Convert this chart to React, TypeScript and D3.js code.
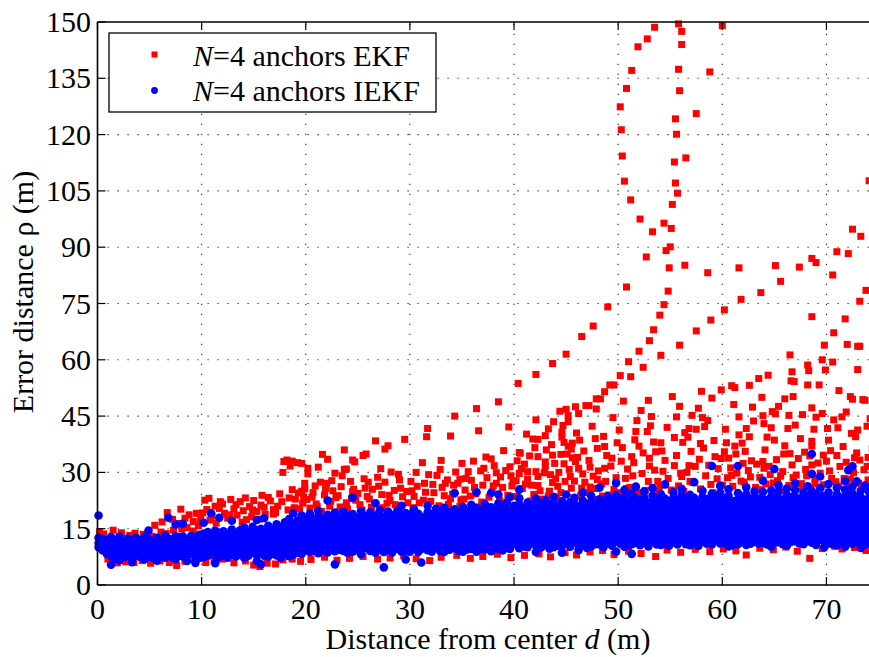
import React from "react";
import * as d3 from "d3";

// Axis ticks
const xTicks = [0, 10, 20, 30, 40, 50, 60, 70];
const yTicks = [0, 15, 30, 45, 60, 75, 90, 105, 120, 135, 150];

// IEKF error samples, grouped as [d, ρ1, ρ2, ...] (one column per distance)
const iekf0to10: number[][] = [
  [0.1, 18.5, 12.6, 11.2, 10.1], [0.5, 12.3, 10.7, 9.2, 11.6], [0.9, 11.9, 10.2, 8.3, 9.6],
  [1.3, 12.8, 11.1, 9.5, 7.7, 5.4], [1.7, 12.0, 10.4, 8.7, 7.1], [2.1, 12.9, 11.6, 9.9, 8.1, 6.6],
  [2.5, 11.5, 10.1, 8.6, 7.4], [2.9, 12.4, 10.8, 9.3, 7.8], [3.3, 11.8, 10.5, 8.4, 7.0, 6.1],
  [3.7, 12.6, 11.0, 9.7, 8.0], [4.1, 11.9, 10.6, 9.0, 7.5], [4.5, 12.8, 11.4, 9.8, 8.3, 6.9],
  [4.9, 14.5, 12.2, 10.4, 8.9, 7.6], [5.3, 11.7, 10.2, 8.6, 7.2], [5.7, 12.6, 11.1, 9.5, 8.0, 6.5],
  [6.1, 12.1, 10.5, 9.1, 7.7], [6.5, 13.2, 11.7, 10.0, 8.5, 7.3], [6.8, 17.9, 12.4, 10.8, 9.4, 7.9],
  [7.2, 12.1, 10.6, 8.9, 7.4], [7.5, 16.1, 13.0, 11.3, 9.7, 8.2, 6.9], [7.9, 12.7, 11.0, 9.4, 7.9],
  [8.2, 16.3, 12.9, 10.9, 9.2, 7.6], [8.6, 12.2, 10.6, 9.1, 7.8, 6.4], [9.0, 13.1, 11.5, 9.9, 8.4],
  [9.4, 12.5, 10.8, 9.3, 7.7, 5.9], [9.8, 13.4, 11.8, 10.3, 8.6, 7.2],
];

const iekf10to20: number[][] = [
  [10.2, 16.6, 13.7, 12.1, 10.5, 8.8, 7.4], [10.6, 14.1, 12.4, 10.8, 9.0, 7.8],
  [10.9, 19.1, 13.3, 11.5, 9.9, 8.3], [11.3, 14.5, 12.9, 11.2, 9.6, 8.0, 5.8],
  [11.7, 17.9, 13.9, 12.1, 10.4, 8.9, 7.5], [12.1, 14.3, 12.6, 11.0, 9.3, 7.9],
  [12.5, 13.5, 11.8, 10.2, 8.6, 7.3], [12.9, 17.1, 14.8, 13.0, 11.3, 9.7, 8.1],
  [13.3, 13.9, 12.2, 10.6, 8.9, 7.6], [13.7, 14.6, 13.0, 11.4, 9.8, 8.2],
  [14.1, 15.3, 13.5, 11.7, 10.0, 8.5, 7.2], [14.5, 14.1, 12.4, 10.9, 9.2, 7.8],
  [14.9, 15.5, 13.8, 12.0, 10.3, 8.7], [15.3, 17.3, 14.6, 12.9, 11.2, 9.5, 8.0, 6.4],
  [15.7, 15.0, 13.3, 11.7, 9.9, 8.4, 5.5], [16.0, 17.8, 14.4, 12.7, 11.0, 9.4, 7.8],
  [16.4, 15.8, 14.0, 12.3, 10.6, 9.0, 7.6], [16.8, 14.8, 13.1, 11.5, 9.8, 8.3],
  [17.2, 16.2, 14.5, 12.8, 11.1, 9.5, 7.9], [17.6, 15.3, 13.6, 12.0, 10.3, 8.7, 7.3],
  [18.0, 16.7, 14.9, 13.2, 11.6, 9.9, 8.4], [18.4, 17.6, 15.7, 13.9, 12.3, 10.6, 9.0, 7.7],
  [18.8, 19.1, 16.3, 14.5, 12.8, 11.2, 9.5, 8.1], [19.2, 17.2, 15.3, 13.6, 11.9, 10.3, 8.6],
  [19.6, 18.5, 16.6, 14.8, 13.1, 11.4, 9.8, 8.3],
];

const iekf20to30: number[][] = [
  [20.0, 17.9, 16.1, 14.4, 12.6, 10.9, 9.2], [20.4, 19.0, 17.3, 15.5, 13.7, 12.1, 10.4, 8.8],
  [20.8, 17.5, 15.8, 14.0, 12.3, 10.7, 9.0], [21.2, 19.8, 18.3, 16.6, 14.9, 13.3, 11.5, 9.9, 8.5],
  [21.6, 17.7, 15.9, 14.2, 12.5, 10.8, 9.3], [22.1, 22.5, 18.7, 17.0, 15.3, 13.6, 11.9, 10.2, 8.7],
  [22.5, 18.1, 16.4, 14.6, 13.0, 11.3, 9.6], [22.8, 19.3, 17.5, 15.8, 14.1, 12.4, 10.7, 9.0, 5.5],
  [23.2, 17.9, 16.2, 14.5, 12.8, 11.1, 9.4], [23.6, 19.6, 17.8, 16.0, 14.3, 12.6, 10.9, 9.1],
  [24.0, 18.4, 16.7, 15.0, 13.3, 11.6, 9.9, 8.6], [24.5, 23.3, 18.9, 17.2, 15.5, 13.8, 12.1, 10.4, 8.9],
  [24.9, 18.0, 16.3, 14.6, 12.9, 11.2, 9.5], [25.3, 19.7, 17.9, 16.2, 14.5, 12.8, 11.1, 9.4, 8.2],
  [25.7, 18.3, 16.6, 14.9, 13.2, 11.5, 9.8], [26.2, 19.4, 17.6, 15.9, 14.2, 12.5, 10.8, 9.1],
  [26.7, 21.8, 18.5, 16.8, 15.1, 13.4, 11.7, 10.0, 8.6], [27.1, 19.9, 18.1, 16.4, 14.7, 13.0, 11.3, 9.6],
  [27.5, 18.2, 16.5, 14.8, 13.1, 11.4, 9.7, 8.8, 4.7], [27.9, 19.6, 17.8, 16.1, 14.4, 12.7, 11.0, 9.3],
  [28.3, 18.6, 16.9, 15.2, 13.5, 11.8, 10.1, 8.7], [28.8, 19.8, 18.2, 16.5, 14.8, 13.1, 11.4, 9.7],
  [29.2, 21.1, 18.8, 17.1, 15.4, 13.7, 12.0, 10.3, 8.9], [29.6, 19.2, 17.4, 15.7, 14.0, 12.3, 10.6, 9.2, 6.8],
];

const iekf30to40: number[][] = [
  [30.0, 18.7, 17.0, 15.1, 13.6, 11.8, 10.2, 8.9], [30.4, 20.1, 18.2, 16.8, 14.9, 13.3, 11.4, 9.9],
  [30.8, 19.0, 17.5, 15.6, 13.9, 12.1, 10.6, 8.8], [31.1, 18.1, 16.4, 14.8, 13.0, 11.5, 9.6, 6.0],
  [31.7, 21.1, 19.4, 17.6, 16.0, 14.2, 12.7, 10.9, 9.3], [32.1, 18.9, 17.1, 15.5, 13.7, 12.2, 10.4, 8.9],
  [32.5, 20.3, 18.5, 16.9, 15.1, 13.4, 11.8, 10.0], [32.9, 19.2, 17.4, 15.7, 14.1, 12.3, 10.7, 9.1],
  [33.3, 20.6, 18.8, 17.2, 15.4, 13.9, 12.0, 10.3, 8.8], [33.8, 19.5, 17.7, 16.1, 14.3, 12.8, 11.0, 9.4],
  [34.3, 24.5, 20.2, 18.6, 16.7, 15.1, 13.3, 11.7, 9.9], [34.7, 19.1, 17.5, 15.8, 14.0, 12.5, 10.7, 9.0],
  [35.1, 20.8, 19.0, 17.4, 15.6, 14.0, 12.3, 10.5, 8.9], [35.5, 19.7, 17.9, 16.2, 14.6, 12.8, 11.2, 9.5],
  [35.9, 21.4, 19.6, 18.0, 16.3, 14.5, 12.9, 11.1, 9.6], [36.4, 24.7, 20.5, 18.7, 17.0, 15.3, 13.5, 11.9, 10.1, 8.9],
  [36.8, 19.9, 18.1, 16.5, 14.7, 13.0, 11.4, 9.7], [37.2, 21.6, 19.8, 18.2, 16.4, 14.8, 13.0, 11.3, 9.5],
  [37.8, 24.5, 20.7, 18.9, 17.3, 15.5, 13.9, 12.1, 10.4, 9.0], [38.2, 20.0, 18.4, 16.6, 15.0, 13.2, 11.6, 9.8],
  [38.5, 24.1, 21.8, 20.1, 18.3, 16.6, 14.8, 13.2, 11.4, 9.7], [38.9, 20.9, 19.3, 17.5, 15.8, 14.2, 12.4, 10.8, 9.2],
  [39.3, 22.0, 20.2, 18.5, 16.9, 15.1, 13.5, 11.7, 10.0], [39.6, 23.4, 19.7, 18.0, 16.2, 14.6, 12.8, 11.2, 9.6],
];

const iekf40to50: number[][] = [
  [40.0, 21.1, 19.3, 17.7, 15.9, 14.3, 12.5, 10.9], [40.5, 25.4, 23.1, 21.5, 19.8, 18.1, 16.4, 14.8, 13.0, 11.4, 9.8],
  [40.9, 20.5, 18.8, 17.0, 15.4, 13.6, 12.0, 10.3], [41.3, 22.0, 20.3, 18.5, 16.9, 15.1, 13.5, 11.7, 10.1],
  [41.7, 21.2, 19.6, 17.8, 16.2, 14.4, 12.8, 11.1], [42.1, 23.0, 20.7, 19.0, 17.2, 15.6, 13.8, 12.2, 10.5, 8.8],
  [42.6, 21.8, 20.1, 18.4, 16.6, 15.0, 13.2, 11.6, 10.0], [43.0, 22.6, 20.8, 19.2, 17.5, 15.7, 14.1, 12.3, 10.7],
  [43.4, 21.5, 19.7, 18.1, 16.3, 14.7, 12.9, 11.3, 9.7], [43.8, 23.5, 21.9, 20.2, 18.4, 16.8, 15.0, 13.4, 11.6, 10.1],
  [44.2, 20.7, 19.0, 17.2, 15.6, 13.8, 12.2, 10.5], [44.6, 22.3, 20.6, 18.9, 17.1, 15.5, 13.7, 12.1, 10.4, 8.6],
  [45.0, 24.1, 21.4, 19.7, 17.9, 16.3, 14.5, 12.9, 11.1], [45.4, 22.1, 20.4, 18.6, 17.0, 15.2, 13.6, 11.8, 10.2],
  [45.8, 23.2, 21.6, 19.8, 18.2, 16.4, 14.8, 13.0, 11.4], [46.2, 21.0, 19.3, 17.6, 15.8, 14.2, 12.4, 10.8, 9.3],
  [46.6, 24.6, 22.5, 20.7, 19.1, 17.3, 15.7, 13.9, 12.3, 10.6], [47.0, 21.7, 20.0, 18.2, 16.6, 14.8, 13.2, 11.4, 9.9],
  [47.4, 23.8, 22.1, 20.5, 18.7, 17.1, 15.3, 13.7, 11.9, 10.3], [47.8, 21.2, 19.5, 17.7, 16.1, 14.3, 12.7, 10.9],
  [48.2, 25.9, 22.8, 21.0, 19.4, 17.6, 16.0, 14.2, 12.6, 10.8], [48.6, 22.0, 20.3, 18.5, 16.9, 15.1, 13.5, 11.7, 10.1],
  [49.0, 23.6, 21.5, 19.8, 18.0, 16.4, 14.6, 13.0, 11.2], [49.4, 22.4, 20.7, 18.9, 17.3, 15.5, 13.9, 12.1, 10.5],
  [49.8, 27.2, 24.0, 21.9, 20.2, 18.4, 16.8, 15.0, 13.4, 11.6, 8.9],
];

const iekf50to60: number[][] = [
  [50.2, 22.9, 21.2, 19.4, 17.8, 16.0, 14.4, 12.6, 11.0], [50.6, 25.3, 23.6, 21.8, 20.2, 18.4, 16.8, 15.0, 13.4, 11.6, 10.2],
  [51.0, 22.2, 20.5, 18.7, 17.1, 15.3, 13.7, 11.9, 10.6], [51.3, 24.4, 22.7, 20.9, 19.3, 17.5, 15.9, 14.1, 12.5, 10.9, 8.3],
  [51.7, 26.2, 23.1, 21.3, 19.7, 17.9, 16.3, 14.5, 12.9, 11.2], [52.1, 22.5, 20.8, 19.0, 17.4, 15.6, 14.0, 12.2, 10.6],
  [52.5, 24.9, 23.4, 21.6, 20.0, 18.2, 16.6, 14.8, 13.2, 11.5], [52.9, 22.0, 20.3, 18.5, 16.9, 15.1, 13.5, 11.7, 10.3],
  [53.3, 25.8, 23.8, 22.0, 20.4, 18.6, 17.0, 15.2, 13.6, 11.8], [53.7, 22.7, 21.0, 19.2, 17.6, 15.8, 14.2, 12.4, 10.8],
  [54.1, 24.2, 22.4, 20.6, 19.0, 17.2, 15.6, 13.8, 12.2, 10.7], [54.5, 26.8, 23.0, 21.2, 19.6, 17.8, 16.2, 14.4, 12.8, 11.1],
  [54.9, 22.3, 20.6, 18.8, 17.2, 15.4, 13.8, 12.0, 10.5], [55.3, 24.7, 23.3, 21.5, 19.9, 18.1, 16.5, 14.7, 13.1, 11.4],
  [55.7, 22.6, 20.9, 19.1, 17.5, 15.7, 14.1, 12.3, 10.8], [56.1, 25.6, 23.9, 22.1, 20.5, 18.7, 17.1, 15.3, 13.7, 11.9],
  [56.5, 22.8, 21.1, 19.3, 17.7, 15.9, 14.3, 12.5, 10.9], [56.9, 24.0, 22.5, 20.7, 19.1, 17.3, 15.7, 13.9, 12.3, 10.6],
  [57.3, 27.4, 23.2, 21.4, 19.8, 18.0, 16.4, 14.6, 13.0, 11.3], [57.7, 22.1, 20.4, 18.6, 17.0, 15.2, 13.6, 11.8, 10.4],
  [58.1, 25.1, 23.5, 21.7, 20.1, 18.3, 16.7, 14.9, 13.3, 11.6], [58.5, 22.9, 21.2, 19.4, 17.8, 16.0, 14.4, 12.6, 11.0],
  [59.0, 31.7, 24.3, 22.6, 20.8, 19.2, 17.4, 15.8, 14.0, 12.4, 10.8], [59.4, 23.7, 22.0, 20.2, 18.6, 16.8, 15.2, 13.4, 11.8],
  [59.8, 26.4, 24.6, 22.9, 21.1, 19.5, 17.7, 16.1, 14.3, 12.7, 11.1],
];

const iekf60to75: number[][] = [
  [60.2, 23.1, 21.4, 19.6, 18.0, 16.2, 14.6, 12.8, 11.2], [60.6, 25.5, 23.8, 22.0, 20.4, 18.6, 17.0, 15.2, 13.6, 11.8, 10.3],
  [61.0, 22.4, 20.7, 18.9, 17.3, 15.5, 13.9, 12.1, 10.6], [61.5, 31.7, 24.5, 22.8, 21.0, 19.4, 17.6, 16.0, 14.2, 12.6, 10.9],
  [61.9, 23.3, 21.6, 19.8, 18.2, 16.4, 14.8, 13.0, 11.4], [62.3, 26.0, 24.2, 22.4, 20.8, 19.0, 17.4, 15.6, 14.0, 12.2, 10.7],
  [62.7, 22.9, 21.2, 19.4, 17.8, 16.0, 14.4, 12.6, 11.0], [63.1, 25.0, 23.5, 21.7, 20.1, 18.3, 16.7, 14.9, 13.3, 11.5],
  [63.5, 23.0, 21.3, 19.5, 17.9, 16.1, 14.5, 12.7, 11.1], [63.9, 27.8, 24.8, 23.0, 21.4, 19.6, 18.0, 16.2, 14.6, 12.8, 11.2],
  [64.3, 22.6, 20.9, 19.1, 17.5, 15.7, 14.1, 12.3, 10.8], [64.7, 25.2, 23.6, 21.8, 20.2, 18.4, 16.8, 15.0, 13.4, 11.6, 10.2],
  [65.0, 30.9, 23.2, 21.4, 19.8, 18.0, 16.4, 14.6, 13.0, 11.3], [65.4, 26.6, 24.9, 23.1, 21.5, 19.7, 18.1, 16.3, 14.7, 12.9, 11.4],
  [65.8, 22.7, 21.0, 19.2, 17.6, 15.8, 14.2, 12.4, 10.9], [66.2, 25.7, 24.0, 22.2, 20.6, 18.8, 17.2, 15.4, 13.8, 12.0, 10.5],
  [66.6, 23.4, 21.7, 19.9, 18.3, 16.5, 14.9, 13.1, 11.5], [67.0, 27.1, 25.3, 23.5, 21.9, 20.1, 18.5, 16.7, 15.1, 13.3, 11.7],
  [67.4, 23.0, 21.3, 19.5, 17.9, 16.1, 14.5, 12.7, 11.1], [67.8, 24.6, 22.9, 21.1, 19.5, 17.7, 16.1, 14.3, 12.7, 10.9],
  [68.2, 26.3, 23.7, 21.9, 20.3, 18.5, 16.9, 15.1, 13.5, 11.7], [68.6, 34.9, 29.6, 25.0, 23.3, 21.5, 19.9, 18.1, 16.5, 14.7, 13.1, 11.3],
  [69.0, 24.2, 22.5, 20.7, 19.1, 17.3, 15.7, 13.9, 12.3, 10.7], [69.4, 28.9, 25.8, 24.1, 22.3, 20.7, 18.9, 17.3, 15.5, 13.9, 12.1],
  [69.8, 23.5, 21.8, 20.0, 18.4, 16.6, 15.0, 13.2, 11.6, 10.1], [70.2, 26.9, 24.7, 22.9, 21.3, 19.5, 17.9, 16.1, 14.5, 12.7, 11.1],
  [70.6, 22.8, 21.1, 19.3, 17.7, 15.9, 14.3, 12.5, 10.9], [71.0, 25.9, 24.2, 22.4, 20.8, 19.0, 17.4, 15.6, 14.0, 12.2, 10.6],
  [71.4, 23.3, 21.6, 19.8, 18.2, 16.4, 14.8, 13.0, 11.4], [71.8, 27.7, 25.4, 23.6, 22.0, 20.2, 18.6, 16.8, 15.2, 13.4, 11.8, 10.2],
  [72.1, 30.6, 24.0, 22.2, 20.6, 18.8, 17.2, 15.4, 13.8, 12.0], [72.5, 31.6, 26.2, 24.4, 22.8, 21.0, 19.4, 17.6, 16.0, 14.2, 12.6, 11.0],
  [72.9, 27.6, 23.5, 21.7, 20.1, 18.3, 16.7, 14.9, 13.3, 11.5], [73.3, 25.1, 23.4, 21.6, 20.0, 18.2, 16.6, 14.8, 13.2, 11.4, 9.9],
  [73.7, 26.5, 22.7, 20.9, 19.3, 17.5, 15.9, 14.1, 12.5, 10.8], [74.1, 24.8, 23.1, 21.3, 19.7, 17.9, 16.3, 14.5, 12.9, 11.2],
  [74.5, 25.6, 22.0, 20.4, 18.6, 17.0, 15.2, 13.6, 11.8],
];

// EKF error samples as flat [d, ρ, d, ρ, ...] pairs
const ekfFringe = [
  0.2, 14.2, 0.6, 13.6, 1.5, 14.6, 2.3, 13.9, 3.1, 13.2, 3.6, 13.8, 4.4, 13.5, 5.2, 13.0, 6.1, 14.1,
  6.6, 13.7, 7.3, 14.6, 8.1, 14.9, 8.6, 15.3, 9.2, 14.4, 9.7, 15.8,
  1.0, 6.9, 1.9, 5.9, 2.7, 6.2, 3.5, 6.0, 4.3, 6.5, 5.1, 5.8, 6.0, 6.4, 6.9, 6.0, 7.6, 5.2, 8.4, 6.3, 9.3, 6.8,
  10.4, 6.0, 11.2, 6.6, 12.0, 6.9, 13.1, 5.9, 14.2, 6.4, 15.0, 5.3, 15.6, 4.9, 16.3, 5.8, 17.1, 5.6,
  17.8, 6.7, 18.7, 6.9, 19.5, 6.3, 20.5, 6.8, 21.8, 7.4, 23.0, 6.6, 24.2, 7.1, 25.5, 7.6, 26.9, 6.9,
  28.1, 7.2, 29.4, 7.8, 30.6, 7.0, 31.9, 6.5, 33.0, 7.4, 34.5, 7.9, 35.8, 7.1, 37.0, 7.6, 38.4, 8.2,
  39.7, 7.3, 41.0, 7.9, 42.4, 8.3, 43.5, 7.5, 44.9, 8.6, 46.0, 8.0, 47.3, 8.8, 48.5, 9.2, 49.6, 8.1,
  51.0, 9.0, 52.2, 8.4, 53.6, 7.6, 54.7, 9.3, 56.0, 8.7, 57.4, 9.5, 58.8, 8.9, 60.1, 9.6, 61.3, 9.1,
  62.3, 8.0, 63.6, 9.8, 64.9, 9.4, 66.1, 10.1, 67.2, 9.0, 68.4, 7.1, 69.6, 9.7, 70.8, 10.3, 71.5, 9.6,
  72.7, 10.0, 73.8, 9.2,
];

const ekfCloud5to20 = [
  5.5, 15.9, 6.2, 16.8, 6.7, 19.3, 7.2, 17.5, 7.8, 16.4, 8.0, 20.2, 8.4, 17.8, 8.8, 18.7, 9.2, 16.9,
  9.5, 19.1, 9.9, 17.6, 10.3, 22.6, 10.5, 20.1, 10.7, 23.1, 11.0, 18.4, 11.3, 21.0, 11.7, 20.4,
  11.8, 22.2, 12.2, 19.1, 12.5, 17.8, 12.8, 22.8, 13.1, 20.3, 13.4, 18.6, 13.7, 22.2, 14.0, 19.8,
  14.3, 17.4, 14.6, 20.9, 15.0, 22.5, 14.8, 18.2, 15.3, 19.6, 15.7, 21.3, 16.1, 18.8, 16.6, 22.4,
  16.9, 20.1, 17.3, 21.0, 17.5, 24.3, 17.8, 30.0, 17.9, 32.9, 18.2, 33.3, 18.4, 23.2, 18.5, 31.7,
  18.7, 33.0, 18.9, 20.6, 19.2, 32.6, 19.3, 24.5, 19.6, 32.4, 19.6, 25.0, 19.9, 25.6, 19.9, 27.1,
  19.7, 21.8, 15.8, 23.9, 19.0, 22.9, 16.9, 18.9,
  10.1, 19.2, 10.8, 17.3, 11.4, 16.5, 12.0, 21.6, 12.7, 18.7, 13.3, 21.4, 13.9, 16.7, 14.2, 23.2,
  14.9, 20.0, 15.5, 17.5, 16.0, 20.7, 16.4, 23.3, 17.1, 19.3, 17.7, 22.2, 18.3, 20.0, 18.7, 25.4,
  19.4, 20.3, 19.8, 23.4,
];

const ekfCloud20to40 = [
  20.2, 31.1, 20.2, 29.6, 20.9, 26.4, 21.2, 31.4, 21.4, 27.4, 21.6, 34.8, 22.0, 27.1, 22.1, 33.5,
  22.5, 27.8, 22.6, 25.1, 22.8, 29.8, 23.5, 29.1, 23.7, 36.0, 23.7, 30.8, 23.9, 30.9, 24.5, 33.3,
  24.6, 25.5, 24.7, 32.8, 24.5, 24.9, 20.6, 23.4, 21.0, 21.6, 21.8, 24.0, 22.4, 22.3, 23.1, 23.8,
  23.9, 21.9, 24.3, 27.6, 20.4, 20.5, 21.5, 19.6, 23.3, 20.8, 24.8, 22.6,
  25.5, 34.5, 25.8, 34.9, 25.7, 25.8, 26.4, 25.5, 26.7, 38.4, 27.6, 36.2, 27.6, 27.4, 27.9, 37.1,
  28.1, 22.5, 29.0, 28.0, 29.5, 38.8, 26.1, 22.9, 26.9, 28.7, 27.3, 24.1, 28.5, 25.2, 29.3, 23.5,
  25.2, 21.4, 26.3, 20.7, 27.8, 21.8, 28.8, 20.4, 29.7, 24.9, 25.6, 28.3, 28.2, 30.1,
  30.1, 27.6, 30.6, 30.0, 31.4, 27.1, 31.6, 39.5, 31.7, 41.7, 32.2, 26.8, 33.1, 26.0, 33.9, 39.7,
  34.2, 26.6, 34.3, 45.0, 34.6, 27.1, 34.8, 28.2, 30.4, 23.6, 30.9, 21.9, 31.5, 24.7, 32.0, 22.3,
  32.6, 29.2, 33.3, 23.8, 33.7, 21.5, 34.1, 24.2, 34.9, 22.7, 31.2, 32.6, 32.9, 30.8, 30.2, 25.1,
  33.6, 28.0,
  35.3, 25.3, 35.6, 30.2, 36.4, 47.0, 36.6, 41.1, 36.8, 30.4, 37.0, 26.6, 37.8, 33.6, 38.3, 29.9,
  38.3, 27.1, 38.5, 48.8, 39.2, 30.5, 39.5, 42.1, 39.7, 29.1, 35.2, 22.9, 35.9, 27.9, 36.3, 24.3,
  36.9, 22.1, 37.4, 28.6, 37.9, 24.8, 38.6, 22.6, 38.9, 26.0, 39.4, 23.9, 39.9, 27.5, 36.1, 33.0,
  38.1, 31.8, 39.8, 26.4,
  20.1, 22.8, 20.7, 24.6, 21.1, 20.9, 21.9, 25.7, 22.3, 21.0, 22.9, 23.3, 23.4, 26.2, 24.0, 20.3,
  24.4, 23.0, 25.0, 24.4, 25.4, 20.0, 25.9, 23.6, 26.6, 21.8, 27.0, 26.3, 27.4, 20.6, 28.0, 23.9,
  28.6, 21.4, 29.1, 25.8, 29.8, 21.9, 26.0, 27.4, 28.9, 29.5, 27.2, 31.0,
  30.3, 20.6, 30.7, 26.3, 31.3, 22.6, 31.8, 29.4, 32.3, 24.6, 32.8, 21.1, 33.4, 27.1, 33.9, 23.0,
  34.4, 30.1, 34.8, 20.9, 35.4, 28.4, 35.8, 23.7, 36.2, 26.0, 36.6, 20.8, 37.1, 31.1, 37.6, 23.4,
  38.0, 26.4, 38.7, 28.8, 39.1, 21.9, 39.6, 31.5, 35.0, 32.4, 37.3, 34.1, 39.0, 35.8, 33.0, 33.2,
];

const ekfCloud40to50 = [
  40.3, 33.1, 40.4, 53.7, 40.5, 35.3, 40.5, 29.7, 40.6, 35.1, 41.0, 32.2, 41.3, 30.2, 41.3, 28.2,
  41.5, 34.4, 41.8, 38.9, 42.1, 56.1, 42.1, 30.2, 42.1, 44.0, 42.3, 38.8, 42.3, 34.2, 42.3, 28.9,
  42.3, 26.5, 43.0, 39.8, 43.0, 32.8, 43.0, 31.5, 43.1, 36.0, 43.7, 59.0, 43.7, 34.6, 43.7, 27.3,
  43.8, 43.5, 43.9, 32.4, 44.2, 26.3, 44.4, 46.3, 44.5, 34.8, 44.6, 40.7, 44.6, 39.4, 44.7, 42.5,
  44.8, 38.0, 44.8, 32.3, 44.9, 27.6, 40.8, 25.7, 41.9, 24.1, 42.7, 22.9, 43.4, 25.0, 44.1, 23.4,
  40.2, 27.8, 41.7, 26.6, 43.5, 29.4, 44.3, 30.0,
  45.0, 46.8, 45.0, 61.5, 45.1, 34.9, 45.2, 45.1, 45.2, 43.5, 45.2, 37.0, 45.5, 36.2, 45.5, 25.8,
  45.6, 37.8, 45.6, 33.9, 45.9, 47.5, 45.9, 32.9, 46.2, 45.7, 46.2, 31.1, 46.5, 66.2, 46.5, 25.8,
  46.6, 29.6, 46.7, 35.7, 46.9, 47.8, 47.2, 47.8, 47.3, 31.4, 47.3, 26.1, 47.6, 69.0, 47.6, 29.0,
  47.9, 49.6, 47.9, 46.9, 48.0, 36.4, 48.0, 28.1, 48.3, 49.6, 48.7, 51.5, 48.7, 36.9, 48.7, 31.1,
  49.0, 74.1, 49.2, 53.3, 49.4, 33.8, 49.6, 53.3, 49.6, 25.5, 45.8, 27.7, 46.4, 23.9, 47.1, 24.6,
  47.7, 22.8, 48.4, 26.9, 49.1, 24.0, 49.8, 28.6, 46.0, 40.5, 47.5, 42.3, 48.6, 39.6, 49.5, 44.6,
  45.3, 30.8, 48.9, 34.5,
  40.1, 23.6, 40.7, 31.0, 41.1, 26.9, 41.6, 22.4, 42.0, 36.6, 42.5, 25.1, 42.9, 29.9, 43.3, 23.7,
  43.6, 37.4, 44.0, 28.3, 44.5, 24.6, 45.4, 28.9, 45.7, 23.2, 46.1, 34.0, 46.8, 27.4, 47.2, 33.2,
  47.7, 25.7, 48.1, 30.4, 48.5, 23.7, 48.8, 27.6, 49.3, 31.7, 49.7, 22.9, 46.3, 38.6, 47.8, 39.0,
  49.9, 37.9, 41.2, 40.2, 43.3, 41.6,
];

const ekfCloud50to75 = [
  50.2, 55.8, 50.5, 49.0, 50.8, 79.4, 51.0, 59.5, 51.2, 55.5, 51.3, 34.2, 51.5, 32.6, 52.0, 62.3,
  52.0, 37.0, 52.4, 58.0, 52.7, 87.4, 52.9, 49.2, 53.0, 65.1, 53.0, 33.8, 53.0, 31.7, 53.4, 68.0,
  53.4, 38.1, 54.0, 71.9, 54.1, 61.2, 54.1, 37.9, 54.4, 74.7, 54.6, 89.1, 54.8, 78.3, 54.9, 84.5,
  55.0, 90.1, 50.1, 41.3, 50.7, 28.4, 51.1, 26.0, 51.8, 43.8, 52.3, 29.7, 52.6, 25.2, 53.2, 44.9,
  53.8, 27.6, 54.3, 30.3, 54.7, 42.0, 50.4, 36.6, 51.6, 38.7, 52.8, 40.9, 53.6, 35.5, 54.5, 33.2,
  50.9, 30.9, 52.2, 46.5, 54.0, 26.5, 55.4, 31.8, 55.4, 39.3,
  55.2, 50.2, 55.9, 63.9, 56.2, 38.0, 56.4, 85.2, 56.4, 40.6, 56.7, 39.4, 56.8, 41.7, 56.8, 31.8,
  57.5, 67.7, 57.5, 41.5, 57.9, 37.7, 58.0, 51.6, 58.1, 44.6, 58.3, 42.2, 58.6, 83.2, 58.6, 43.8,
  58.9, 70.6, 59.0, 49.8, 59.3, 34.2, 59.9, 52.0, 56.1, 28.9, 55.8, 26.4, 56.6, 30.0, 57.2, 27.3,
  57.8, 33.5, 58.4, 29.1, 58.9, 26.8, 59.6, 31.0, 57.0, 35.6, 59.2, 38.5, 55.6, 44.8, 57.7, 47.1,
  60.2, 73.3, 60.2, 35.5, 60.3, 41.5, 60.6, 33.8, 60.9, 53.1, 61.1, 48.1, 61.2, 52.6, 61.2, 37.0,
  61.6, 84.5, 61.6, 44.8, 61.6, 40.0, 61.8, 76.1, 61.9, 37.8, 62.0, 32.4, 62.3, 41.7, 62.6, 53.2,
  62.6, 39.5, 62.8, 33.1, 63.0, 43.7, 63.5, 55.0, 63.7, 77.9, 63.8, 50.0, 63.9, 45.1, 63.9, 32.9,
  64.0, 31.1, 64.3, 39.4, 64.4, 55.9, 64.7, 41.9, 64.8, 46.2, 65.0, 38.6, 60.5, 28.6, 61.0, 26.3,
  61.4, 29.8, 62.1, 27.4, 62.5, 30.5, 63.2, 26.0, 63.6, 28.7, 64.2, 26.9, 64.6, 29.4, 60.8, 31.2,
  65.1, 85.1, 65.1, 45.6, 65.4, 47.6, 65.6, 80.9, 65.9, 34.9, 66.0, 49.6, 66.3, 41.7, 66.4, 45.2,
  66.5, 61.3, 66.6, 54.4, 66.7, 56.8, 66.7, 32.0, 66.9, 54.2, 67.0, 42.6, 67.4, 84.7, 68.2, 58.6,
  68.2, 53.3, 68.3, 57.1, 68.6, 87.0, 68.6, 71.5, 68.6, 47.2, 68.6, 38.3, 68.6, 37.0, 68.6, 32.0,
  68.8, 41.5, 69.0, 85.9, 69.0, 44.7, 69.3, 53.3, 69.6, 60.0, 69.6, 45.7, 69.7, 34.6, 69.8, 63.9,
  69.9, 57.3, 65.3, 27.8, 65.8, 30.2, 66.4, 26.5, 67.1, 29.3, 67.6, 27.0, 68.0, 30.8, 68.9, 26.9,
  69.4, 29.8, 67.9, 35.4, 66.0, 37.1, 67.5, 39.0,
  70.1, 41.7, 70.6, 82.6, 70.6, 59.4, 70.7, 67.2, 70.7, 44.0, 71.0, 88.8, 71.1, 41.9, 71.5, 44.8,
  71.8, 70.9, 71.9, 46.1, 72.0, 64.1, 72.1, 88.3, 72.3, 50.2, 72.5, 94.8, 72.5, 49.5, 72.8, 39.5,
  73.0, 63.6, 73.0, 57.4, 73.0, 41.3, 73.2, 75.6, 73.2, 63.6, 73.2, 33.3, 73.3, 92.9, 73.5, 49.4,
  73.7, 49.2, 73.8, 78.5, 73.9, 42.3, 74.1, 107.7, 70.3, 30.4, 70.9, 27.5, 71.3, 31.6, 71.7, 28.4,
  72.2, 26.2, 72.6, 29.9, 73.1, 27.1, 73.6, 30.7, 74.0, 28.0, 70.4, 35.8, 71.6, 36.9, 72.9, 35.2,
  74.0, 34.0,
  50.0, 24.6, 50.3, 33.0, 50.8, 25.7, 51.4, 29.1, 51.9, 24.6, 52.4, 35.2, 52.9, 27.6, 53.5, 30.6,
  53.9, 24.7, 54.2, 35.7, 54.8, 28.4, 55.1, 25.3, 55.6, 34.5, 56.0, 29.8, 56.3, 24.9, 56.9, 27.6,
  57.4, 31.6, 57.9, 25.6, 58.2, 36.5, 58.7, 31.9, 59.1, 24.6, 59.5, 28.3, 59.9, 33.7, 51.7, 40.9,
  53.1, 42.4, 55.9, 47.6, 57.1, 45.2,
  60.0, 26.6, 60.4, 37.9, 60.9, 29.2, 61.3, 34.9, 61.8, 27.7, 62.2, 35.6, 62.7, 28.8, 63.3, 32.2,
  63.7, 25.4, 64.1, 36.0, 64.5, 31.6, 64.9, 27.2, 65.2, 33.4, 65.6, 29.0, 66.0, 25.1, 66.5, 35.0,
  66.8, 28.6, 67.3, 33.7, 67.7, 25.9, 68.1, 29.1, 68.4, 34.4, 68.9, 28.3, 69.2, 32.5, 69.7, 26.7,
  70.0, 33.0, 70.5, 28.4, 71.0, 34.5, 71.2, 26.4, 71.9, 32.7, 72.3, 28.2, 72.7, 33.9, 73.4, 26.0,
  73.9, 31.6, 74.3, 27.9, 74.4, 36.4, 70.2, 38.6, 72.4, 40.4, 74.2, 44.3, 62.9, 47.4, 64.0, 43.0,
  66.8, 50.2, 67.7, 45.4, 71.2, 51.8,
];

// Divergent EKF runs: loop above d ≈ 50–56 and the branch rising to the top edge
const ekfDivergent = [
  50.3, 121.3, 50.4, 114.3, 50.6, 107.6, 51.2, 102.6, 52.1, 97.5, 53.3, 94.1, 54.4, 96.4, 55.1, 95.0,
  55.2, 101.4, 55.7, 104.4, 55.5, 107.1, 55.4, 112.7, 55.6, 120.1, 55.5, 124.2, 55.9, 131.7, 55.8, 137.4,
  56.1, 144.0, 56.1, 147.5, 55.8, 149.5, 53.5, 148.6, 52.8, 145.5, 51.9, 143.4, 51.3, 137.1, 50.8, 132.3,
  50.2, 127.4, 56.5, 113.8, 57.5, 125.6, 58.8, 136.7, 60.0, 149.0,
];

const toPairs = (flat: number[]) =>
  d3.range(0, flat.length - 1, 2).map((i) => [flat[i], flat[i + 1]] as [number, number]);
const fromColumns = (cols: number[][]) =>
  cols.flatMap(([d, ...rs]) => rs.map((r) => [d, r] as [number, number]));

const ekfPoints = [
  ...toPairs(ekfFringe),
  ...toPairs(ekfCloud5to20),
  ...toPairs(ekfCloud20to40),
  ...toPairs(ekfCloud40to50),
  ...toPairs(ekfCloud50to75),
  ...toPairs(ekfDivergent),
];

const iekfPoints = [
  ...fromColumns(iekf0to10),
  ...fromColumns(iekf10to20),
  ...fromColumns(iekf20to30),
  ...fromColumns(iekf30to40),
  ...fromColumns(iekf40to50),
  ...fromColumns(iekf50to60),
  ...fromColumns(iekf60to75),
];

const W = 869;
const H = 657;
const FONT = '"Liberation Serif", "Times New Roman", Times, serif';
const RED = "#ff0000";
const BLUE = "#0000ff";
const textStyle: React.CSSProperties = { fontFamily: FONT, fontSize: "30px" };

export default function App() {
  const x = d3.scaleLinear().domain([0, 75]).range([97.5, 878.5]);
  const y = d3.scaleLinear().domain([0, 150]).range([585, 22]);
  const [x0, x1] = x.range();
  const [yb, yt] = y.range();
  const tickLen = 8;
  const sq = 7;

  return (
    <svg
      width={W}
      height={H}
      viewBox={`0 0 ${W} ${H}`}
      style={{ position: "absolute", left: 0, top: 0, background: "#fff", fontFamily: FONT }}
    >
      <rect x={0} y={0} width={W} height={H} fill="#fff" />

      {/* dotted grid */}
      <g stroke="#222" strokeWidth={1.1} strokeDasharray="1.2 8.8" fill="none">
        {xTicks.filter((t) => t > 0).map((t) => (
          <line key={`gx${t}`} x1={x(t)} x2={x(t)} y1={yb} y2={yt} />
        ))}
        {yTicks.filter((t) => t > 0 && t < 150).map((t) => (
          <line key={`gy${t}`} x1={x0} x2={x1} y1={y(t)} y2={y(t)} />
        ))}
      </g>

      {/* EKF markers */}
      <g fill={RED}>
        {ekfPoints.map(([d, r], i) => (
          <rect key={`e${i}`} x={x(d) - sq / 2} y={y(r) - sq / 2} width={sq} height={sq} />
        ))}
      </g>

      {/* IEKF markers */}
      <g fill={BLUE}>
        {iekfPoints.map(([d, r], i) => (
          <circle key={`i${i}`} cx={x(d)} cy={y(r)} r={4.3} />
        ))}
      </g>

      {/* axes box */}
      <g stroke="#000" strokeWidth={1.6} fill="none">
        <line x1={x0} x2={x1} y1={yb} y2={yb} />
        <line x1={x0} x2={x1} y1={yt} y2={yt} />
        <line x1={x0} x2={x0} y1={yb} y2={yt} />
      </g>
      <g stroke="#000" strokeWidth={1.2}>
        {xTicks.map((t) => (
          <g key={`tx${t}`}>
            <line x1={x(t)} x2={x(t)} y1={yb} y2={yb - tickLen} />
            <line x1={x(t)} x2={x(t)} y1={yt} y2={yt + tickLen} />
          </g>
        ))}
        {yTicks.map((t) => (
          <line key={`ty${t}`} x1={x0} x2={x0 + tickLen} y1={y(t)} y2={y(t)} />
        ))}
      </g>

      {/* tick labels */}
      <g fill="#000">
        {xTicks.map((t) => (
          <text key={`lx${t}`} x={x(t)} y={619} textAnchor="middle" style={textStyle}>
            {t}
          </text>
        ))}
        {yTicks.map((t) => (
          <text key={`ly${t}`} x={91} y={y(t) + 10} textAnchor="end" style={textStyle}>
            {t}
          </text>
        ))}
      </g>

      {/* axis titles */}
      <text x={488} y={649} textAnchor="middle" fill="#000" style={textStyle}>
        Distance from center <tspan fontStyle="italic">d</tspan> (m)
      </text>
      <text
        transform="translate(33,292) rotate(-90)"
        textAnchor="middle"
        fill="#000"
        style={textStyle}
      >
        Error distance ρ (m)
      </text>

      {/* legend */}
      <g>
        <rect x={109} y={33} width={327} height={79} fill="#fff" stroke="#000" strokeWidth={1.3} />
        <rect x={154.5 - 3} y={54.5 - 3} width={6} height={6} fill={RED} />
        <circle cx={154.5} cy={90.5} r={3.4} fill={BLUE} />
        <text x={193} y={66} fill="#000" style={textStyle}>
          <tspan fontStyle="italic">N</tspan>=4 anchors EKF
        </text>
        <text x={193} y={101} fill="#000" style={textStyle}>
          <tspan fontStyle="italic">N</tspan>=4 anchors IEKF
        </text>
      </g>
    </svg>
  );
}
